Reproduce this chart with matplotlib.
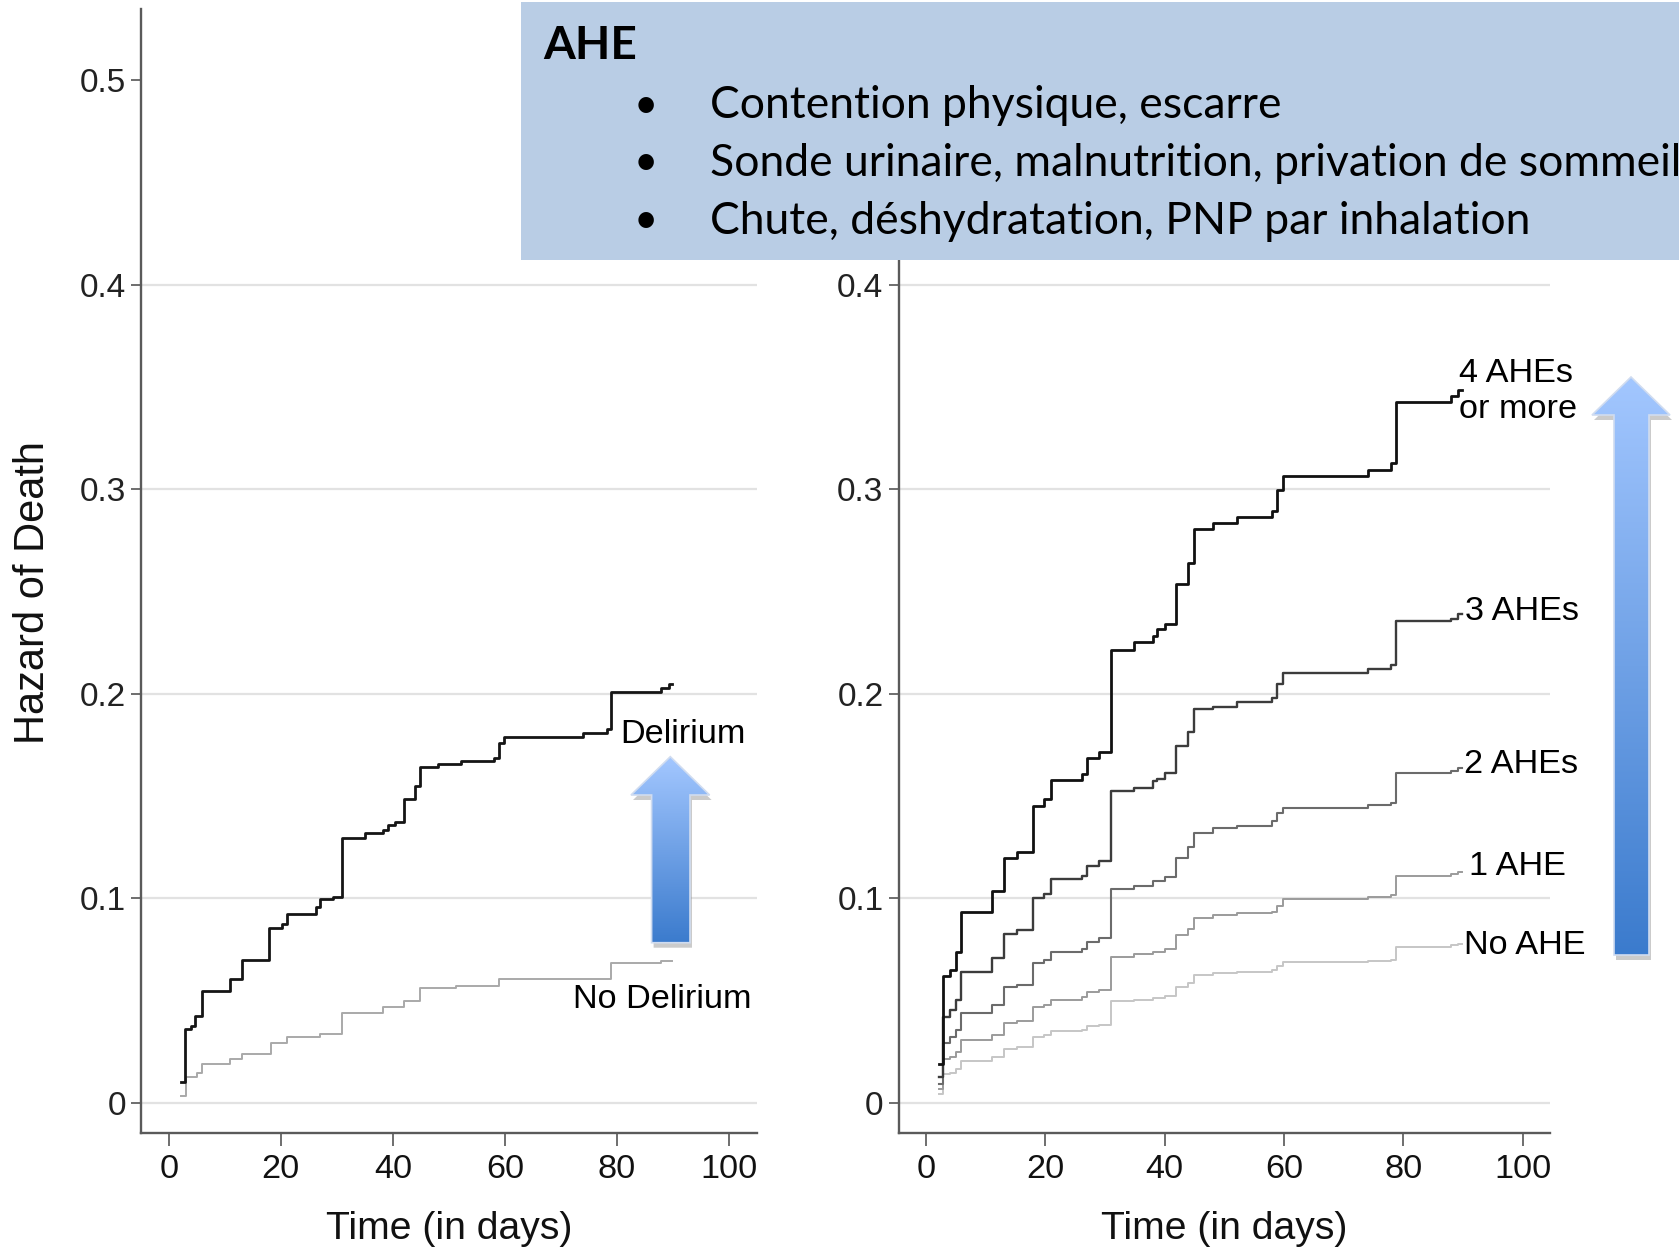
import matplotlib
matplotlib.use("Agg")
import matplotlib.pyplot as plt
from matplotlib import font_manager
from matplotlib.colors import LinearSegmentedColormap
from matplotlib.patches import Polygon, Rectangle
import numpy as np

# ---- left panel: delirium vs no delirium (cumulative hazard, step curves)
delirium_days = [2.2, 2.9, 3.9, 4.7, 6.0, 10.9, 13.1, 17.8, 20.2, 21.1, 26.2, 26.9,
                 29.3, 31.0, 35.0, 38.2, 39.1, 40.4, 41.9, 43.9, 44.9, 48.1, 52.1,
                 58.1, 59.0, 59.9, 73.9, 78.3, 79.0, 87.8, 89.2, 89.9]
delirium_hazard = [0.0103, 0.036, 0.0376, 0.0425, 0.0547, 0.0605, 0.0698, 0.0855,
                   0.0874, 0.0923, 0.0956, 0.0997, 0.1005, 0.1296, 0.1319, 0.1335,
                   0.1356, 0.1373, 0.1487, 0.1547, 0.1642, 0.1655, 0.1672, 0.1683,
                   0.1757, 0.1789, 0.1806, 0.1825, 0.2010, 0.2026, 0.2046, 0.2046]
no_delirium_days = [2.2, 3.1, 5.1, 6.0, 10.9, 13.1, 18.2, 21.1, 26.9, 31.0, 38.2,
                    41.9, 44.9, 51.3, 59.0, 79.0, 87.8, 89.9]
no_delirium_hazard = [0.0033, 0.0123, 0.0147, 0.0188, 0.0212, 0.024, 0.0294, 0.0319,
                      0.0338, 0.0436, 0.0466, 0.0498, 0.056, 0.0572, 0.0605, 0.0681,
                      0.0691, 0.0691]

# ---- right panel: number of AHEs
ahe_days = [2.19, 2.79, 4.06, 5.03, 5.93, 11.0, 13.01, 15.25, 18.01, 19.73, 20.99,
            26.07, 26.97, 29.06, 31.07, 34.88, 38.01, 38.76, 40.10, 41.90, 43.84,
            44.96, 48.09, 52.04, 58.01, 58.90, 59.87, 73.99, 77.94, 78.84, 88.02,
            89.13, 89.88]
ahe4_hazard = [0.0187, 0.0617, 0.0649, 0.0738, 0.0933, 0.1037, 0.1195, 0.1224, 0.145,
               0.1487, 0.1579, 0.1608, 0.1686, 0.1717, 0.2215, 0.2252, 0.2283, 0.2317,
               0.2342, 0.2536, 0.264, 0.2803, 0.2835, 0.2866, 0.2895, 0.2997, 0.3065,
               0.3094, 0.3126, 0.3425, 0.3454, 0.3483, 0.3483]
ahe3_hazard = [0.0126, 0.0418, 0.0454, 0.0503, 0.0641, 0.0709, 0.0826, 0.0843, 0.1001,
               0.102, 0.1093, 0.111, 0.1159, 0.1183, 0.1523, 0.154, 0.1572, 0.1584,
               0.1613, 0.1742, 0.1814, 0.1924, 0.1936, 0.196, 0.1977, 0.2045, 0.2099,
               0.2123, 0.2142, 0.2356, 0.2366, 0.239, 0.239]
ahe2_hazard = [0.009, 0.0291, 0.0321, 0.0357, 0.0437, 0.0478, 0.0564, 0.0576, 0.0685,
               0.0697, 0.0738, 0.0753, 0.0787, 0.0806, 0.1044, 0.1061, 0.1086, 0.1086,
               0.1103, 0.1195, 0.1248, 0.1321, 0.1341, 0.1353, 0.1377, 0.1414, 0.1443,
               0.1457, 0.1467, 0.1613, 0.162, 0.1637, 0.1637]
ahe1_hazard = [0.0066, 0.0211, 0.0223, 0.0248, 0.0308, 0.0333, 0.0389, 0.0398, 0.0466,
               0.0478, 0.0503, 0.0515, 0.0539, 0.0551, 0.0714, 0.0729, 0.0738, 0.0738,
               0.0753, 0.0819, 0.085, 0.0904, 0.0916, 0.0928, 0.0933, 0.0964, 0.0996,
               0.1006, 0.1013, 0.111, 0.1117, 0.1127, 0.1127]
ahe0_hazard = [0.0041, 0.0138, 0.0146, 0.0163, 0.0204, 0.0223, 0.026, 0.0272, 0.0321,
               0.0333, 0.035, 0.0357, 0.0374, 0.0381, 0.0496, 0.0503, 0.051, 0.051,
               0.052, 0.0564, 0.0583, 0.0624, 0.0632, 0.0641, 0.0649, 0.0666, 0.069,
               0.0695, 0.0697, 0.0763, 0.077, 0.0777, 0.0777]

ahe_labels = ["4 AHEs\nor more", "3 AHEs", "2 AHEs", "1 AHE", "No AHE"]
ahe_label_y = [0.3477, 0.2402, 0.1654, 0.1156, 0.0769]
ahe_label_x = [89.4, 90.3, 90.1, 91.0, 90.1]

x_ticks = [0, 20, 40, 60, 80, 100]
y_ticks = [0, 0.1, 0.2, 0.3, 0.4, 0.5]
y_tick_labels = ["0", "0.1", "0.2", "0.3", "0.4", "0.5"]

box_title = "AHE"
box_items = ["Contention physique, escarre",
             "Sonde urinaire, malnutrition, privation de sommeil",
             "Chute, déshydratation, PNP par inhalation"]


def has_font(name):
    try:
        font_manager.findfont(font_manager.FontProperties(family=name),
                              fallback_to_default=False)
        return True
    except ValueError:
        return False


HAS_NARROW = has_font("Liberation Sans Narrow")
NARROW = "Liberation Sans Narrow" if HAS_NARROW else "Liberation Sans"
# regular Arial-like font is wider, so shrink it a bit to keep the widths
NS = 1.0 if HAS_NARROW else 0.88
REG = "Liberation Sans"
BOX_FONT = "Lato"

W, H = 1679, 1252
fig = plt.figure(figsize=(W / 100, H / 100), dpi=100)


def style_axes(ax, xlim, yticks):
    ax.set_xlim(*xlim)
    ax.set_ylim(-0.0147, 0.535)
    for s in ("top", "right"):
        ax.spines[s].set_visible(False)
    for s in ("left", "bottom"):
        ax.spines[s].set_color("#5a5a5a")
        ax.spines[s].set_linewidth(1.7)
    ax.set_yticks(yticks)
    ax.set_yticklabels(y_tick_labels[:len(yticks)], fontsize=24, family=REG,
                       color="#222222")
    ax.set_xticks(x_ticks)
    ax.set_xticklabels([str(t) for t in x_ticks], fontsize=28 * NS, family=NARROW,
                       color="#111111")
    ax.tick_params(axis="y", length=7, width=1.2, color="#555555", pad=4)
    ax.tick_params(axis="x", length=9, width=1.2, color="#555555", pad=6)
    ax.yaxis.grid(True, color="#e2e2e2", lw=1.6)
    ax.set_axisbelow(True)
    # no gridline at 0.5
    gl = ax.get_ygridlines()
    if len(gl) == 6:
        gl[-1].set_visible(False)
    ax.set_xlabel("Time (in days)", fontsize=32 * NS, family=NARROW, labelpad=19,
                  color="#111111")


# left panel
ax1 = fig.add_axes([141.4 / W, 1 - 1132.7 / H, (756.5 - 141.4) / W, (1132.7 - 8.6) / H])
style_axes(ax1, (-4.89, 104.9), y_ticks)
ax1.step(no_delirium_days, no_delirium_hazard, where="post", color="#a9a9a9", lw=1.4)
ax1.step(delirium_days, delirium_hazard, where="post", color="#151515", lw=2.0)
ax1.text(80.5, 0.180, "Delirium", fontsize=28 * NS, family=NARROW, va="center",
         ha="left")
ax1.text(72.1, 0.0502, "No Delirium", fontsize=28 * NS, family=NARROW, va="center",
         ha="left")
ax1.set_ylabel("Hazard of Death", fontsize=30, family=REG, color="#111111")
ax1.yaxis.set_label_coords(-0.143, 0.481)

# right panel (0.5 is hidden below the text box)
ax2 = fig.add_axes([898.7 / W, 1 - 1132.7 / H, (1550.2 - 898.7) / W, (1132.7 - 8.6) / H])
style_axes(ax2, (-4.56, 104.6), y_ticks[:5])
series = [ahe0_hazard, ahe1_hazard, ahe2_hazard, ahe3_hazard, ahe4_hazard]
colors = ["#c6c6c6", "#9b9b9b", "#6b6b6b", "#3c3c3c", "#111111"]
widths = [1.4, 1.4, 1.5, 1.7, 2.0]
for h, c, lw in zip(series, colors, widths):
    ax2.step(ahe_days, h, where="post", color=c, lw=lw)
for lab, lx, ly in zip(ahe_labels, ahe_label_x, ahe_label_y):
    ax2.text(lx, ly, lab, fontsize=28 * NS, family=NARROW, va="center", ha="left",
             linespacing=1.2)

# overlay in pixel coordinates for the box and the arrows
ov = fig.add_axes([0, 0, 1, 1], zorder=10)
ov.patch.set_visible(False)
ov.axis("off")

ov.add_patch(Rectangle((521, 2), 1170, 258, fc="#b9cde5", ec="none"))
ov.text(543, 46, box_title, fontsize=33, fontweight="bold", family=BOX_FONT,
        va="center", ha="left", color="black")
for i, item in enumerate(box_items):
    yy = 106 + i * 57.5
    ov.text(646, yy, "\u2022", fontsize=30, family=BOX_FONT, va="center", ha="center")
    ov.text(710, yy, item, fontsize=32, family=BOX_FONT, va="center", ha="left")

arrow_cmap = LinearSegmentedColormap.from_list("arr", ["#a3c7ff", "#3b7bcd"])


def gradient_arrow(x0, x1, hx0, hx1, y_tip, y_head, y_bot):
    xm = (hx0 + hx1) / 2
    verts = [(x0, y_bot), (x0, y_head), (hx0, y_head), (xm, y_tip),
             (hx1, y_head), (x1, y_head), (x1, y_bot)]
    ov.add_patch(Polygon([(x + 2, y + 5) for x, y in verts], closed=True,
                         fc="#8c8c8c", ec="none", alpha=0.45))
    poly = Polygon(verts, closed=True, fc="none", ec="#d0dcf0", lw=1.2, zorder=3)
    ov.add_patch(poly)
    grad = np.linspace(0, 1, 256)[:, None]
    im = ov.imshow(grad, cmap=arrow_cmap, extent=[hx0, hx1, y_bot, y_tip],
                   aspect="auto", zorder=2)
    im.set_clip_path(poly)


gradient_arrow(651.6, 690.0, 631.0, 709.6, 756.7, 795.0, 942.7)
gradient_arrow(1614.0, 1649.0, 1592.0, 1670.0, 377.0, 415.0, 955.0)

ov.set_xlim(0, W)
ov.set_ylim(H, 0)

fig.savefig("out.png", dpi=100)
